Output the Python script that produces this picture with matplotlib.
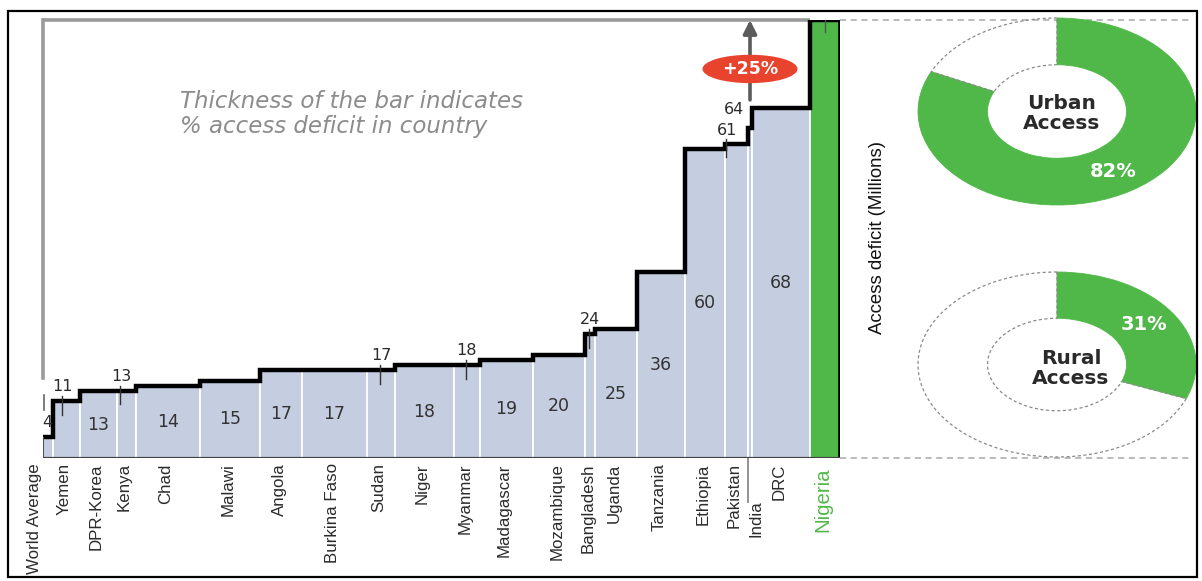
import matplotlib
matplotlib.use("Agg")
import matplotlib.pyplot as plt
from matplotlib import font_manager
from matplotlib.patches import Ellipse, Rectangle
import numpy as np

# ---- data -------------------------------------------------------------
countries = ["World Average", "Yemen", "DPR-Korea", "Kenya", "Chad", "Malawi",
             "Angola", "Burkina Faso", "Sudan", "Niger", "Myanmar", "Madagascar",
             "Mozambique", "Bangladesh", "Uganda", "Tanzania", "Ethiopia",
             "Pakistan", "India", "DRC", "Nigeria"]
access_deficit_m = [4, 11, 13, 13, 14, 15, 17, 17, 17, 18, 18, 19, 20, 24, 25,
                    36, 60, 61, 64, 68, 85]
bar_thickness = [10, 27, 37, 19, 64, 60, 42, 65, 28, 59, 26, 53, 52, 10, 42,
                 48, 40, 23, 4, 58, 30]
labels_inside = ["DPR-Korea", "Chad", "Malawi", "Angola", "Burkina Faso", "Niger",
                 "Madagascar", "Mozambique", "Uganda", "Tanzania", "Ethiopia", "DRC"]
labels_above = ["World Average", "Yemen", "Kenya", "Sudan", "Myanmar",
                "Bangladesh", "Pakistan", "India"]
highlight = "Nigeria"
urban_access = 82
rural_access = 31

# ---- style ------------------------------------------------------------
W, H = 1202, 581
BAR = "#c5cde0"
GREEN = "#50b848"
GREY = "#9a9a9a"
TXT = "#2b2b2b"


def available(name):
    try:
        font_manager.findfont(font_manager.FontProperties(family=name),
                              fallback_to_default=False)
        return True
    except Exception:
        return False


if available("Liberation Sans Narrow"):
    NARROW, nscale = "Liberation Sans Narrow", 1.0
elif available("Liberation Sans"):
    NARROW, nscale = "Liberation Sans", 0.84
else:
    NARROW, nscale = "DejaVu Sans", 0.78

fig = plt.figure(figsize=(W / 100, H / 100), dpi=100)


def px_rect(x0, y0, x1, y1):
    """figure-fraction rectangle from pixel corners (y measured from top)"""
    return [x0 / W, 1 - y1 / H, (x1 - x0) / W, (y1 - y0) / H]


# ---- main step chart ----------------------------------------------------
ax = fig.add_axes(px_rect(43, 20, 840, 458))
heights = np.array(access_deficit_m, dtype=float)
widths = np.array(bar_thickness, dtype=float)
edges = np.concatenate([[0], np.cumsum(widths)])
lefts = edges[:-1]
centers = lefts + widths / 2
ymax = heights.max()
ax.set_xlim(0, edges[-1])
ax.set_ylim(0, ymax)
ax.axis("off")

colors = [GREEN if c == highlight else BAR for c in countries]
ax.bar(lefts, heights, width=widths, align="edge", color=colors,
       edgecolor="white", linewidth=1.3, zorder=2)

# outline of the staircase
ax.stairs(heights, edges, baseline=None, color="black", linewidth=3.2, zorder=4)
ax.vlines(edges[-1], 0, heights[-1], color="black", linewidth=2.6, zorder=4)
ax.vlines(0, 0, heights[0], color="#555555", linewidth=1.5, zorder=4)
ax.hlines(0, 0, edges[-1], color="#444444", linewidth=1.6, zorder=4)

# grey frame at the top and left
ax.plot([0, edges[-2]], [ymax, ymax], color=GREY, lw=2.6, zorder=1,
        solid_capstyle="butt", clip_on=False)
ax.plot([0, 0], [ymax, 15.5], color=GREY, lw=2.6, zorder=1, clip_on=False)
ax.plot([0.5, 0.5], [9.3, 12.2], color="#666666", lw=1.2, zorder=5, clip_on=False)

# dashed guides towards the donuts
for yv in (0, ymax):
    ax.plot([edges[-1], edges[-1] + 350], [yv, yv], color="#a8a8a8", lw=1.1,
            ls=(0, (4, 3)), clip_on=False, zorder=1)

# values inside the bars
for c, x, h in zip(countries, centers, heights):
    if c in labels_inside:
        ax.text(x, h / 2, f"{h:g}", ha="center", va="center", fontsize=12.5,
                color="#333333", zorder=5, family="DejaVu Sans")

# values above the bars with a short leader tick
above_nudge = {"World Average": (-1, 0), "Yemen": (-4, 0), "Kenya": (-5, 0),
               "Pakistan": (-9, -0.3), "India": (-16, 0.7)}
tick_for = {"World Average": False, "India": False}
for c, x, h in zip(countries, centers, heights):
    if c in labels_above:
        dx, dy = above_nudge.get(c, (0, 0))
        lx = x + dx
        ax.text(lx, h + 2.9 + dy, f"{h:g}", ha="center", va="center",
                fontsize=11.5, color=TXT, zorder=6, family="DejaVu Sans",
                clip_on=False)
        if tick_for.get(c, True):
            ax.plot([lx - 1, lx - 1], [h - 2.6, h + 1.0], color="#333333",
                    lw=1.0, zorder=6)
# tick on top of the highlighted bar
hi = countries.index(highlight)
ax.plot([centers[hi], centers[hi]], [ymax - 2.4, ymax], color="#555555",
        lw=1.0, zorder=6, clip_on=False)

# country names
name_nudge = {"World Average": -14, "India": 6}
for c, x in zip(countries, centers):
    lx = x + name_nudge.get(c, -2)
    if c == highlight:
        ax.annotate(c, (lx, 0), xytext=(0, -6.5), textcoords="offset points",
                    rotation=90, ha="center", va="top", color=GREEN,
                    fontsize=17.5 * nscale, family=NARROW, annotation_clip=False)
    elif c == "India":
        ax.annotate(c, (lx, 0), xytext=(0, -30.5), textcoords="offset points",
                    rotation=90, ha="center", va="top", color=TXT,
                    fontsize=14.5 * nscale, family=NARROW, annotation_clip=False)
        ax.plot([x - 2, x - 2], [0, -44 * ymax / 438], color="#8a8a8a", lw=1.3,
                clip_on=False, zorder=3)
    else:
        ax.annotate(c, (lx, 0), xytext=(0, -3.8), textcoords="offset points",
                    rotation=90, ha="center", va="top", color=TXT,
                    fontsize=14.5 * nscale, family=NARROW, annotation_clip=False)

# growth arrow from DRC to Nigeria
drc = countries.index("DRC")
growth = (heights[hi] / heights[drc] - 1) * 100
ax_x = centers[countries.index("India")]
ax.annotate("", xy=(ax_x, ymax), xytext=(ax_x, heights[drc] + 1.5),
            arrowprops=dict(arrowstyle="-|>", color="#5c5c5c", lw=2.6,
                            mutation_scale=20, shrinkA=0, shrinkB=0),
            annotation_clip=False, zorder=6)
ax.add_patch(Ellipse((ax_x, 75.5), 95, 5.5, facecolor="#e8432d",
                     edgecolor="none", zorder=7, clip_on=False))
ax.text(ax_x, 75.5, f"+{growth:.0f}%", ha="center", va="center",
        color="white", fontsize=12.5, fontweight="bold", zorder=8,
        family="DejaVu Sans")

# explanatory note
fig.text(180 / W, 1 - 101 / H, "Thickness of the bar indicates",
         ha="left", va="center", fontsize=16.5, style="italic", color="#8c8c8c",
         family="DejaVu Sans")
fig.text(180 / W, 1 - 127 / H, "% access deficit in country",
         ha="left", va="center", fontsize=16.5, style="italic", color="#8c8c8c",
         family="DejaVu Sans")

# axis title
fig.text(877 / W, 1 - 237 / H, "Access deficit (Millions)", rotation=90,
         ha="center", va="center", fontsize=16 * nscale, family=NARROW,
         color="#111111")


# ---- donuts ------------------------------------------------------------
def donut(rect, share, title, title_xy):
    d = fig.add_axes(rect)
    wedges, _ = d.pie([share, 100 - share], startangle=90, counterclock=False,
                      radius=1, colors=[GREEN, "none"],
                      wedgeprops=dict(width=0.5, linewidth=0))
    wedges[0].set_edgecolor(GREEN)
    wedges[0].set_linewidth(0.6)
    wedges[1].set_edgecolor("#8a8a8a")
    wedges[1].set_linestyle((0, (2.5, 2)))
    wedges[1].set_linewidth(0.9)
    d.set_aspect("auto")
    d.set_xlim(-1, 1)
    d.set_ylim(-1, 1)
    d.axis("off")
    mid = np.deg2rad(90 - share / 2 * 3.6)
    d.text(0.76 * np.cos(mid), 0.76 * np.sin(mid), f"{share}%", ha="center",
           va="center", color="white", fontsize=14, fontweight="bold",
           family="DejaVu Sans")
    d.text(title_xy[0], title_xy[1], title, ha="center", va="center",
           color="#2a2a2a", fontsize=14.5, fontweight="bold", linespacing=1.05,
           family="DejaVu Sans")


donut(px_rect(918, 18, 1196, 205), urban_access, "Urban\nAccess", (0.03, -0.02))
donut(px_rect(918, 272, 1196, 457), rural_access, "Rural\nAccess", (0.1, -0.04))

# outer frame
fig.add_artist(Rectangle((8 / W, 1 - 577 / H), (1197 - 8) / W, (577 - 11) / H,
                         transform=fig.transFigure, fill=False, lw=1.6,
                         edgecolor="black"))

fig.savefig("out.png", dpi=100)
